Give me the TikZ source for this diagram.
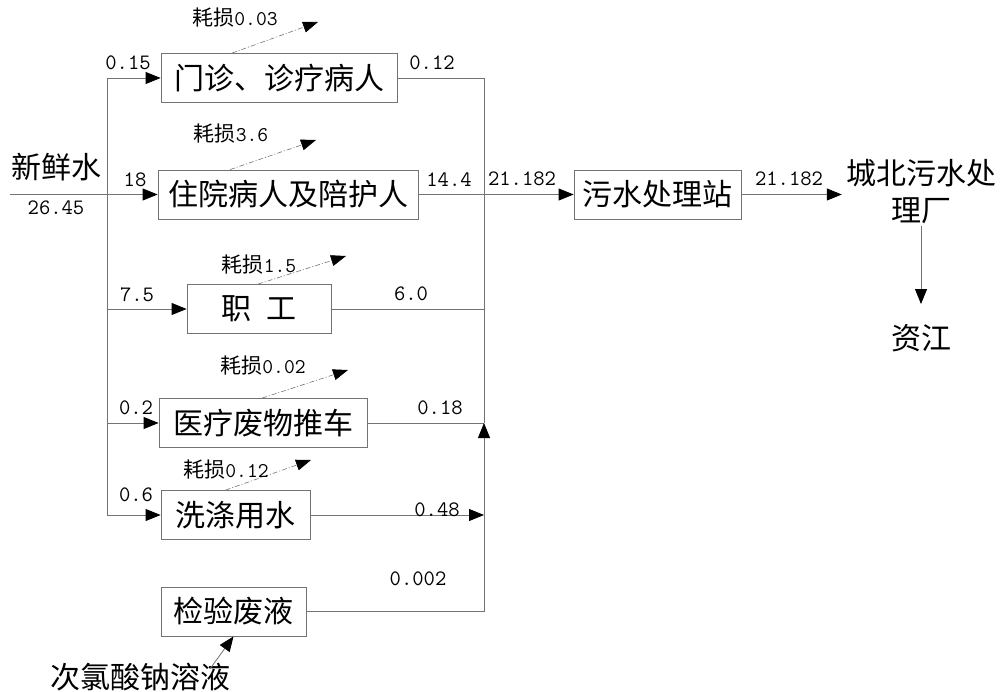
\documentclass[tikz,border=0pt]{standalone}
\usepackage{fontspec}
\newfontfamily\cjk{Noto Sans CJK SC}
\usetikzlibrary{arrows.meta}
\begin{document}
\begin{tikzpicture}[x=1pt,y=-1pt,
  box/.style={draw=black!55, line width=0.8pt, minimum height=49pt, inner sep=0pt, font=\cjk\fontsize{30}{32}\selectfont},
  big/.style={inner sep=0pt, font=\cjk\fontsize{30}{37}\selectfont},
  num/.style={inner sep=0pt, font=\ttfamily\fontsize{22}{24}\selectfont},
  losslbl/.style={inner sep=0pt, font=\fontsize{21}{23}\selectfont},
  flow/.style={draw=black!55, line width=0.8pt},
  arr/.style={flow, -{Triangle[length=15pt,width=12pt,black]}},
  loss/.style={draw=black!55, line width=0.6pt, dash pattern=on 5pt off 2pt on 1pt off 2pt, -{Triangle[length=15pt,width=11pt,black]}}
]
\useasboundingbox (0,0) rectangle (1003,692);
\fill[white] (0,0) rectangle (1003,692);

% boxes
\node[box, minimum width=236pt] (b1) at (279,78) {门诊、诊疗病人};
\node[box, minimum width=260pt] (b2) at (288,194.5) {住院病人及陪护人};
\node[box, minimum width=144pt] (b3) at (259,309) {职\hspace{0.5em}工};
\node[box, minimum width=208pt] (b4) at (263,423) {医疗废物推车};
\node[box, minimum width=149pt] (b5) at (235.5,515) {洗涤用水};
\node[box, minimum width=145pt] (b6) at (233.5,611.5) {检验废液};
\node[box, minimum width=167pt] (b7) at (657.5,194.5) {污水处理站};

% other texts
\node[big] (fresh) at (56,167) {新鲜水};
\node[big, align=center] (plant) at (921,192) {城北污水处\\理厂};
\node[big] (zj) at (921,338) {资江};
\node[big] (naclo) at (140,677) {次氯酸钠溶液};

% coordinates
\coordinate (in) at (10,194.5);
\coordinate (L1) at (107,78);
\coordinate (L5) at (107,515);
\coordinate (j4) at (484,423);
\coordinate (l1) at (318,22);
\coordinate (l2) at (316,140);
\coordinate (l3) at (346,256);
\coordinate (l4) at (348,370);
\coordinate (l5) at (311,460);

% input
\draw[arr] (in) -- (b2.west);
\draw[flow] (L1) -- (L5);
\draw[arr] (L1) -- (b1.west);
\draw[arr] (b3.west -| L1) -- (b3.west);
\draw[arr] (b4.west -| L1) -- (b4.west);
\draw[arr] (L5) -- (b5.west);

% outputs to collector
\draw[flow] (b1.east) -| (j4);
\draw[flow] (b2.east) -- (b2.east -| j4);
\draw[flow] (b3.east) -- (b3.east -| j4);
\draw[flow] (b4.east) -- (j4);
\draw[arr] (b5.east) -- (b5.east -| j4);
\draw[arr] (b6.east) -| (j4);
\draw[arr] (b2.east -| j4) -- (b7.west);
\draw[arr] (b7.east) -- ([xshift=-4pt]b7.east -| plant.west);
\draw[arr] ([yshift=-2pt]plant.south) -- ([yshift=20pt]plant.south |- zj.north);
\draw[arr] ([xshift=70pt,yshift=-6pt]naclo.north) -- (b6.south);

% losses
\draw[loss] ([xshift=-47pt]b1.north) -- (l1);
\draw[loss] ([xshift=-58pt]b2.north) -- (l2);
\draw[loss] ([xshift=-1pt]b3.north) -- (l3);
\draw[loss] ([xshift=-1pt]b4.north) -- (l4);
\draw[loss] ([xshift=-10pt]b5.north) -- (l5);
\node[losslbl] (t1) at (235,18) {{\cjk 耗损}{\ttfamily 0.03}};
\node[losslbl] (t2) at (231,134) {{\cjk 耗损}{\ttfamily 3.6}};
\node[losslbl] (t3) at (259,265) {{\cjk 耗损}{\ttfamily 1.5}};
\node[losslbl] (t4) at (263,366) {{\cjk 耗损}{\ttfamily 0.02}};
\node[losslbl] (t5) at (226,470) {{\cjk 耗损}{\ttfamily 0.12}};

% numbers
\node[num] (n1) at (128,63) {0.15};
\node[num] (n2) at (432,63) {0.12};
\node[num] (n3) at (135,180) {18};
\node[num] (n4) at (449,180) {14.4};
\node[num] (n5) at (522,179) {21.182};
\node[num] (n6) at (789,179) {21.182};
\node[num] (n7) at (137,295) {7.5};
\node[num] (n8) at (411,294) {6.0};
\node[num] (n9) at (136,408) {0.2};
\node[num] (n10) at (440,408) {0.18};
\node[num] (n11) at (136,495) {0.6};
\node[num] (n12) at (437,510) {0.48};
\node[num] (n13) at (418,579) {0.002};
\node[num] (n14) at (56,208) {26.45};
\end{tikzpicture}
\end{document}
